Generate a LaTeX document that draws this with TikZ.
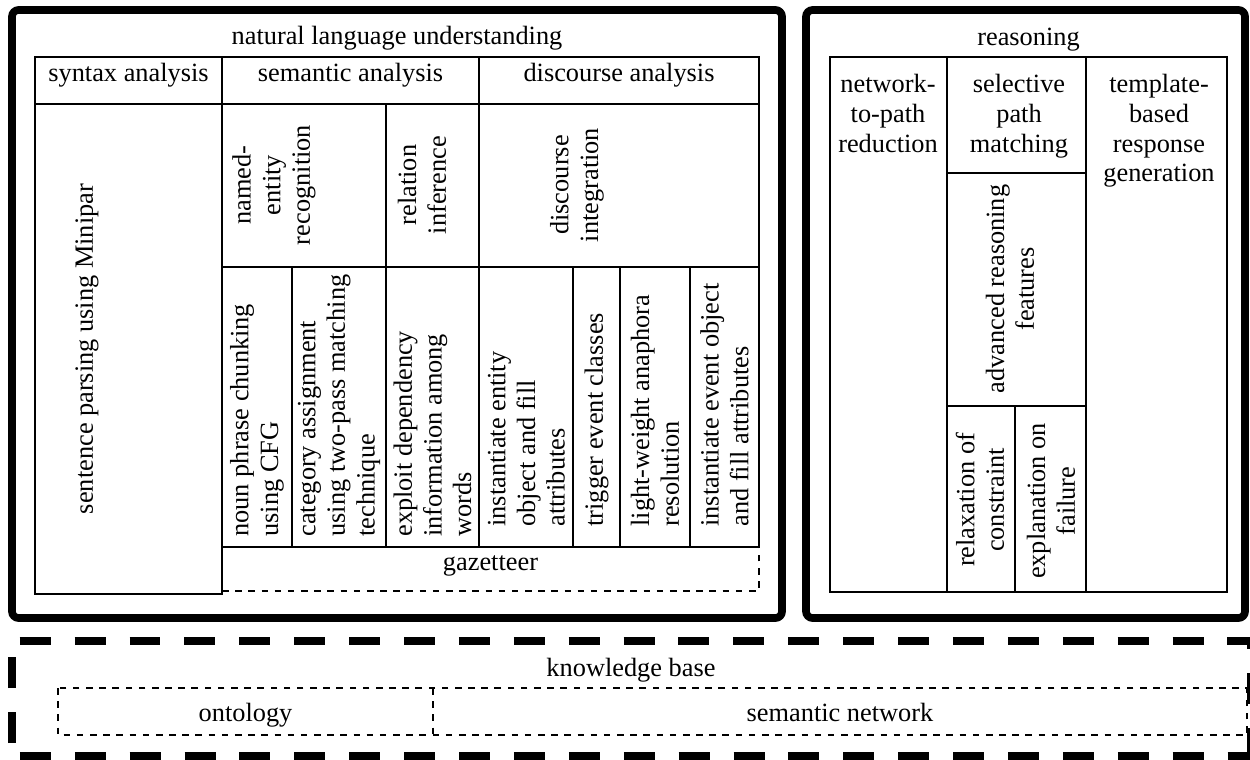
\documentclass[tikz,border=0pt]{standalone}
\usepackage{fontspec}
\setmainfont{Liberation Serif}
\tikzset{
  cell/.style={line width=0.9pt},
  frame/.style={line width=3.5pt, rounded corners=3pt},
  kbframe/.style={line width=3.2pt, dash pattern=on 14.1pt off 10.9pt},
  dashcell/.style={line width=0.9pt, dashed},
  lbl/.style={inner sep=0pt, font=\fontsize{12}{13.5}\selectfont},
  vlbl/.style={lbl, rotate=90, align=center},
  vlow/.style={lbl, rotate=90, align=left, anchor=west},
}
\begin{document}
\begin{tikzpicture}[x=0.016cm, y=-0.016cm]
\useasboundingbox (0,0) rectangle (1250,760);
% natural language understanding
\draw [frame] (12,10) rectangle (782,618);
\node [lbl, anchor=base] (nlu) at (397,45) {natural language understanding};
\draw [cell] (35,57) rectangle (222,104);
\draw [cell] (222,57) rectangle (479,104);
\draw [cell] (479,57) rectangle (759,104);
\node [lbl, anchor=base] (syn) at (128.5,82) {syntax analysis};
\node [lbl, anchor=base] (sem) at (350.5,82) {semantic analysis};
\node [lbl, anchor=base] (dis) at (619,82) {discourse analysis};
\draw [cell] (35,104) rectangle (222,594);
\node [vlbl] (parse) at (87,349) {sentence parsing using Minipar};
\draw [cell] (222,104) rectangle (386,267);
\draw [cell] (386,104) rectangle (479,267);
\draw [cell] (479,104) rectangle (759,267);
\node [vlbl] (ner) at (274,185) {named-\\entity\\recognition};
\node [vlbl] (rel) at (422,185) {relation\\inference};
\node [vlbl] (dint) at (577,185) {discourse\\integration};
\draw [cell] (222,267) rectangle (292,547);
\draw [cell] (292,267) rectangle (386,547);
\draw [cell] (386,267) rectangle (479,547);
\draw [cell] (479,267) rectangle (573,547);
\draw [cell] (573,267) rectangle (620,547);
\draw [cell] (620,267) rectangle (690,547);
\draw [cell] (690,267) rectangle (759,547);
\node [vlow] (npc) at (257,537) {noun phrase chunking\\using CFG};
\node [vlow] (cat) at (339,537) {category assignment\\using two-pass matching\\technique};
\node [vlow] (dep) at (432.5,537) {exploit dependency\\information among\\words};
\node [vlow] (ient) at (526.5,527) {instantiate entity\\object and fill\\attributes};
\node [vlow] (trig) at (596.5,527) {trigger event classes};
\node [vlow] (ana) at (655,527) {light-weight anaphora\\resolution};
\node [vlow] (iev) at (724.5,527) {instantiate event object\\and fill attributes};
% gazetteer
\draw [dashcell] (222,591) -- (759,591) -- (759,547);
\node [lbl, anchor=base] (gaz) at (490.5,570) {gazetteer};
% reasoning
\draw [frame] (806,10) rectangle (1245,618);
\node [lbl, anchor=base] (rsn) at (1028.5,46) {reasoning};
\draw [cell] (830,57) rectangle (947,592);
\draw [cell] (947,57) rectangle (1086,173);
\draw [cell] (947,173) rectangle (1086,406);
\draw [cell] (947,406) rectangle (1015,592);
\draw [cell] (1015,406) rectangle (1086,592);
\draw [cell] (1086,57) rectangle (1227,592);
\node [lbl, anchor=north, align=center] (npr) at (888,74) {network-\\to-path\\reduction};
\node [lbl, anchor=north, align=center] (spm) at (1019,74) {selective\\path\\matching};
\node [lbl, anchor=north, align=center] (tbr) at (1159,74) {template-\\based\\response\\generation};
\node [vlbl] (arf) at (1010,289) {advanced reasoning\\features};
\node [vlbl] (rlx) at (980,500) {relaxation of\\constraint};
\node [vlbl] (exf) at (1051,501) {explanation on\\failure};
% knowledge base
\draw [kbframe, dash phase=19.1pt] (12,756) -- (12,641) -- (1250,641) -- (1250,756);
\draw [kbframe, dash phase=21.4pt] (12,756) -- (1250,756);
\node [lbl, anchor=base] (kb) at (631,676) {knowledge base};
\draw [dashcell] (58,688) rectangle (1247,735);
\draw [dashcell] (433,688) -- (433,735);
\node [lbl, anchor=base] (onto) at (245.5,721) {ontology};
\node [lbl, anchor=base] (snet) at (840,721) {semantic network};
\end{tikzpicture}
\end{document}
